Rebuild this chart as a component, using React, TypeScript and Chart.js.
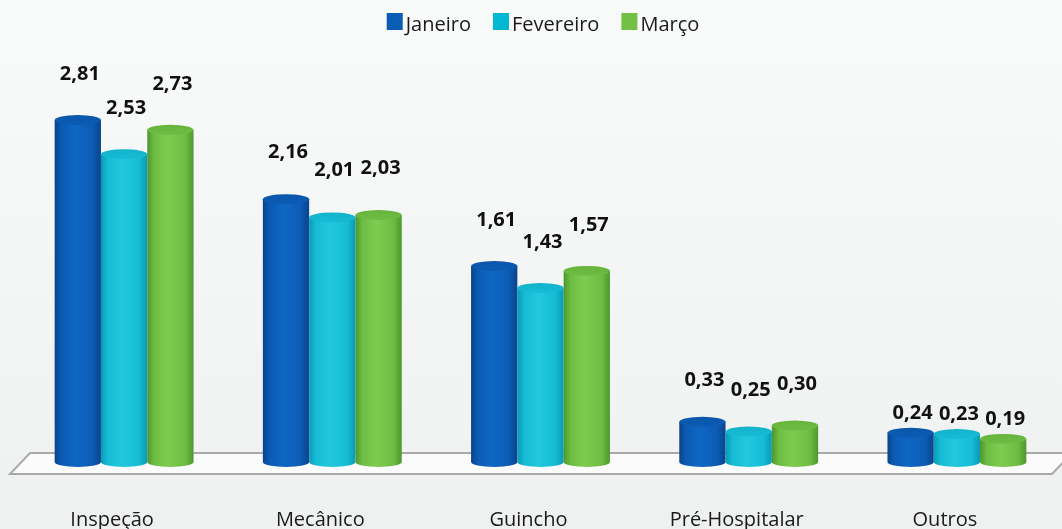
import React, { useEffect, useRef } from "react";
import { Chart, registerables } from "chart.js";

Chart.register(...registerables);

const categories = ["Inspeção", "Mecânico", "Guincho", "Pré-Hospitalar", "Outros"];
const seriesNames = ["Janeiro", "Fevereiro", "Março"];
const janeiro = [2.81, 2.16, 1.61, 0.33, 0.24];
const fevereiro = [2.53, 2.01, 1.43, 0.25, 0.23];
const marco = [2.73, 2.03, 1.57, 0.3, 0.19];
const yMax = 3;

// style config (not data)
const legendColors = ["#0b5cb5", "#00b8d1", "#74c045"];
const shades = [
  { dark: "#0a438c", mid: "#0b5bb4", light: "#0f67c3", cap: "#0a57ab" },
  { dark: "#0a9ab6", mid: "#16bcd4", light: "#22c8de", cap: "#13b3cb" },
  { dark: "#4c972e", mid: "#6ebd43", light: "#7ecb51", cap: "#67b43c" },
];
const labelGap = [40, 41, 40, 36, 14];
const FONT = '"Open Sans", "Noto Sans", sans-serif';

const fmt = (v: number) => v.toFixed(2).replace(".", ",");

const decorPlugin = {
  id: "decor",
  beforeDraw(chart: any) {
    const { ctx, width, height } = chart;
    ctx.save();
    const g = ctx.createLinearGradient(0, 0, 0, height);
    g.addColorStop(0, "#f9fafa");
    g.addColorStop(1, "#eff1f1");
    ctx.fillStyle = g;
    ctx.fillRect(0, 0, width, height);
    ctx.restore();
  },
  beforeDatasetsDraw(chart: any) {
    const { ctx, chartArea } = chart;
    const b = chartArea.bottom;
    const l = chartArea.left;
    const r = chartArea.right;
    ctx.save();
    ctx.beginPath();
    ctx.moveTo(l + 10, b - 9);
    ctx.lineTo(r + 11, b - 9);
    ctx.lineTo(r - 9, b + 12);
    ctx.lineTo(l - 10, b + 12);
    ctx.closePath();
    ctx.fillStyle = "#fbfbfb";
    ctx.fill();
    ctx.strokeStyle = "#a9a9a9";
    ctx.lineWidth = 2;
    ctx.stroke();
    ctx.restore();
  },
  afterDatasetsDraw(chart: any) {
    const { ctx } = chart;
    const n = categories.length;
    ctx.save();
    for (let i = 0; i < n; i++) {
      chart.data.datasets.forEach((ds: any, di: number) => {
        const meta = chart.getDatasetMeta(di);
        const el = meta.data[i];
        if (!el) return;
        const { x, y, base, width } = el.getProps(["x", "y", "base", "width"], true);
        const s = shades[di];
        const rx = width / 2;
        const ry = 5;
        const left = x - rx;
        const grad = ctx.createLinearGradient(left, 0, left + width, 0);
        grad.addColorStop(0, s.dark);
        grad.addColorStop(0.15, s.mid);
        grad.addColorStop(0.45, s.light);
        grad.addColorStop(0.82, s.mid);
        grad.addColorStop(1, s.dark);
        ctx.fillStyle = grad;
        // body
        ctx.beginPath();
        ctx.moveTo(left, y);
        ctx.lineTo(left, base);
        ctx.ellipse(x, base, rx, ry, 0, Math.PI, 0, true);
        ctx.lineTo(left + width, y);
        ctx.closePath();
        ctx.fill();
        // top cap
        const capGrad = ctx.createLinearGradient(0, y - ry, 0, y + ry);
        capGrad.addColorStop(0, s.cap);
        capGrad.addColorStop(1, s.mid);
        ctx.beginPath();
        ctx.ellipse(x, y, rx, ry, 0, 0, Math.PI * 2);
        ctx.fillStyle = capGrad;
        ctx.fill();
      });
    }
    // value labels
    ctx.font = `bold 20px ${FONT}`;
    ctx.fillStyle = "#111111";
    ctx.textAlign = "center";
    ctx.textBaseline = "alphabetic";
    chart.data.datasets.forEach((ds: any, di: number) => {
      const meta = chart.getDatasetMeta(di);
      meta.data.forEach((el: any, i: number) => {
        const { x, y } = el.getProps(["x", "y"], true);
        ctx.fillText(fmt(ds.data[i]), x + 2, y - labelGap[i]);
      });
    });
    ctx.restore();
  },
  afterDraw(chart: any) {
    const { ctx, scales } = chart;
    ctx.save();
    // category labels
    ctx.font = `20px ${FONT}`;
    ctx.fillStyle = "#1a1a1a";
    ctx.textAlign = "center";
    ctx.textBaseline = "alphabetic";
    categories.forEach((c, i) => {
      const x = scales.x.getPixelForValue(i);
      ctx.fillText(c, x - 12, 526);
    });
    // legend
    ctx.textAlign = "left";
    const box = 16;
    const gap = 3;
    const itemGap = 22;
    const widths = seriesNames.map((t) => ctx.measureText(t).width);
    const total = widths.reduce((a, w) => a + box + gap + w, 0) + itemGap * (seriesNames.length - 1);
    let lx = 543 - total / 2;
    seriesNames.forEach((t, i) => {
      ctx.fillStyle = legendColors[i];
      ctx.fillRect(lx, 13, box, 17);
      ctx.fillStyle = "#1a1a1a";
      ctx.fillText(t, lx + box + gap, 31);
      lx += box + gap + widths[i] + itemGap;
    });
    ctx.restore();
  },
};

export default function App() {
  const ref = useRef<HTMLCanvasElement>(null);
  useEffect(() => {
    document.body.style.margin = "0";
    const canvas = ref.current!;
    const seriesData = [janeiro, fevereiro, marco];
    const chart = new Chart(canvas, {
      type: "bar",
      data: {
        labels: categories,
        datasets: seriesNames.map((name, i) => ({
          label: name,
          data: seriesData[i],
          backgroundColor: "rgba(0,0,0,0)",
          borderWidth: 0,
          barPercentage: 1,
          categoryPercentage: 0.667,
        })),
      },
      options: {
        animation: false,
        responsive: false,
        devicePixelRatio: 1,
        layout: { padding: { left: 20, right: 1, top: 97, bottom: 67 } },
        plugins: {
          legend: { display: false },
          tooltip: { enabled: false },
        },
        scales: {
          x: { display: false },
          y: { display: false, min: 0, max: yMax },
        },
      },
      plugins: [decorPlugin],
    });
    return () => chart.destroy();
  }, []);
  return (
    <div style={{ position: "fixed", left: 0, top: 0, width: 1062, height: 529 }}>
      <canvas ref={ref} width={1062} height={529} />
    </div>
  );
}
